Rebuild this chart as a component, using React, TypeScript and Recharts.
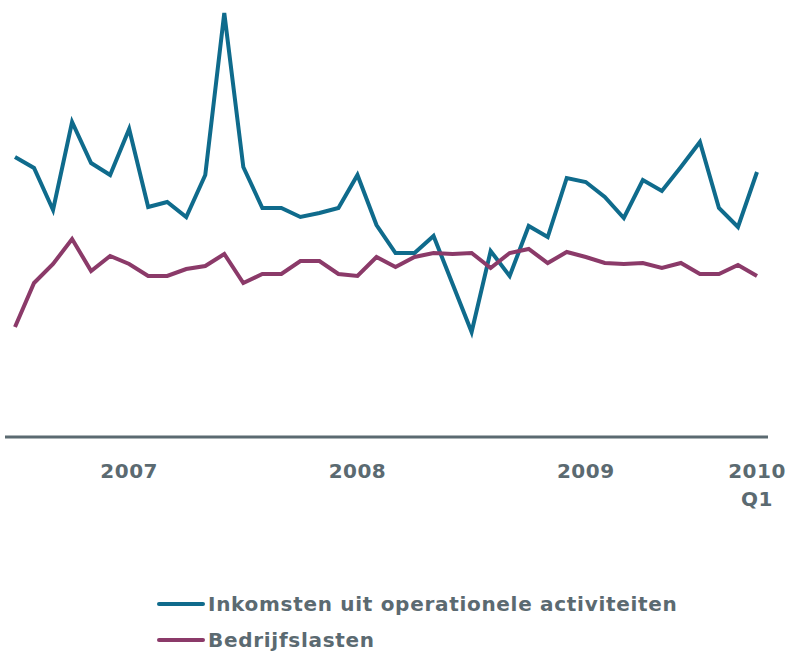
import React from 'react';
import { LineChart, Line, XAxis, YAxis, Legend } from 'recharts';

// monthly, Dec 2006 .. Mar 2010
const months = [
  '2006-12',
  '2007-01', '2007-02', '2007-03', '2007-04', '2007-05', '2007-06',
  '2007-07', '2007-08', '2007-09', '2007-10', '2007-11', '2007-12',
  '2008-01', '2008-02', '2008-03', '2008-04', '2008-05', '2008-06',
  '2008-07', '2008-08', '2008-09', '2008-10', '2008-11', '2008-12',
  '2009-01', '2009-02', '2009-03', '2009-04', '2009-05', '2009-06',
  '2009-07', '2009-08', '2009-09', '2009-10', '2009-11', '2009-12',
  '2010-01', '2010-02', '2010-03',
];

const inkomsten = [
  280, 269, 227, 315, 274, 262, 308, 230, 235, 220, 262, 424, 270,
  229, 229, 220, 224, 229, 262, 212, 184, 184, 201, 153, 105, 186,
  161, 211, 200, 259, 255, 240, 219, 257, 246, 270, 295, 229, 210, 265,
];

const bedrijfslasten = [
  110, 154, 173, 198, 166, 181, 173, 161, 161, 168, 171, 183, 154,
  163, 163, 176, 176, 163, 161, 180, 170, 180, 184, 183, 184, 169,
  184, 188, 174, 185, 180, 174, 173, 174, 169, 174, 163, 163, 172, 161,
];

const yearTicks = ['2007-06', '2008-06', '2009-06', '2010-03'];
const yearLabels = ['2007', '2008', '2009', '2010\nQ1'];

const TEAL = '#0f6b8c';
const PLUM = '#8b3a69';
const GREY = '#5b6a71';
const FONT = '"DejaVu Sans", Verdana, sans-serif';

const data = months.map((m, i) => ({
  month: m,
  inkomsten: inkomsten[i],
  bedrijfslasten: bedrijfslasten[i],
}));

const YearTick = ({ x, y, payload }: any) => {
  const i = yearTicks.indexOf(payload.value);
  if (i < 0) return <g />;
  const lines = yearLabels[i].split('\n');
  return (
    <g>
      {lines.map((l, k) => (
        <text
          key={k}
          x={x}
          y={y + 41 + k * 28}
          textAnchor="middle"
          fill={GREY}
          fontFamily={FONT}
          fontWeight="bold"
          fontSize={20}
          letterSpacing={0.5}
        >
          {l}
        </text>
      ))}
    </g>
  );
};

const legendItems = [
  { name: 'Inkomsten uit operationele activiteiten', color: TEAL },
  { name: 'Bedrijfslasten', color: PLUM },
];

const LegendBox = () => (
  <div style={{ height: 78, paddingTop: 6, boxSizing: 'border-box' }}>
    {legendItems.map((it) => (
      <div key={it.name} style={{ height: 36, display: 'flex', alignItems: 'center' }}>
        <span style={{ display: 'inline-block', width: 48, height: 4, borderRadius: 2, background: it.color, marginRight: 3 }} />
        <span style={{ fontFamily: FONT, fontWeight: 'bold', fontSize: 20, color: GREY, letterSpacing: 0.7 }}>
          {it.name}
        </span>
      </div>
    ))}
  </div>
);

export default function App() {
  return (
    <div style={{ position: 'absolute', left: 0, top: 0, width: 791, height: 652, background: '#fff' }}>
      <LineChart width={791} height={652} data={data} margin={{ top: 7, right: 23, bottom: 0, left: 5 }}>
        <XAxis
          dataKey="month"
          interval={0}
          tickLine={false}
          tickSize={0}
          tickMargin={0}
          tick={<YearTick />}
          axisLine={{ stroke: GREY, strokeWidth: 3 }}
          padding={{ left: 10, right: 11 }}
          height={137}
        />
        <YAxis hide domain={[0, 430]} />
        <Legend
          content={<LegendBox />}
          verticalAlign="bottom"
          wrapperStyle={{ left: 157, top: 580, width: 'auto' }}
        />
        <Line
          dataKey="inkomsten"
          stroke={TEAL}
          strokeWidth={4}
          dot={false}
          isAnimationActive={false}
        />
        <Line
          dataKey="bedrijfslasten"
          stroke={PLUM}
          strokeWidth={4}
          dot={false}
          isAnimationActive={false}
        />
      </LineChart>
    </div>
  );
}
